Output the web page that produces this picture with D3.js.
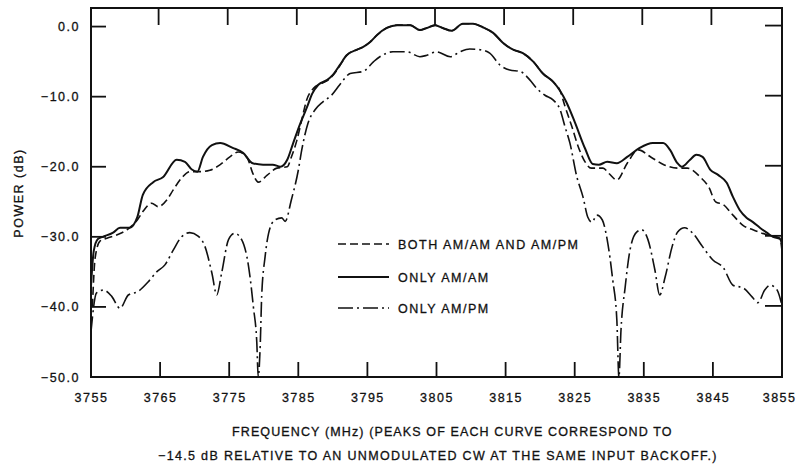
<!DOCTYPE html>
<html>
<head>
<meta charset="utf-8">
<script src="https://cdn.jsdelivr.net/npm/d3@7"></script>
<style>
  html, body { margin: 0; padding: 0; background: #fff; }
  svg text {
    font-family: "Liberation Sans", Arial, Helvetica, sans-serif;
    font-size: 12.5px;
    letter-spacing: 1.5px;
    fill: #111;
    stroke: #111;
    stroke-width: 0.3px;
  }
</style>
</head>
<body>
<svg id="chart" width="797" height="464"></svg>
<script>
// Axis ticks
const freqTicks = [3755, 3765, 3775, 3785, 3795, 3805, 3815, 3825, 3835, 3845, 3855];
const powerTicks = [0, -10, -20, -30, -40, -50];

// Spectrum with both AM/AM and AM/PM conversion (MHz, dB)
const bothCurve = [
  [3755.2,-40],[3755.6,-33],[3756.3,-30.6],[3757.3,-30.2],[3758.8,-29.7],[3760.2,-29.0],
  [3761.7,-27.6],[3762.5,-26.4],[3763.8,-25.2],[3764.7,-25.7],[3766.0,-24.7],[3766.9,-23.3],
  [3768.2,-21.5],[3769.3,-20.7],[3770.8,-20.7],[3772.2,-20.5],[3773.7,-19.7],[3775.1,-18.6],
  [3776.3,-17.9],[3777.6,-18.7],[3778.4,-20.9],[3779.2,-22.2],[3780.5,-21.2],[3781.9,-20.2],
  [3783.4,-20.0],[3784.0,-18.6],[3784.8,-16.2],[3785.5,-13.3],[3786.2,-10.5],[3787.2,-8.8],
  [3788.4,-8.1],[3789.6,-7.4],[3790.6,-6.2],[3791.3,-5.1],[3792.0,-4.1],[3793.5,-3.3],
  [3794.4,-2.9],[3795.4,-2.2],[3796.4,-1.2],[3797.8,-0.2],[3799.3,0.2],[3801.2,0.2],
  [3802.6,-0.5],[3803.6,-0.2],[3804.8,0.2],[3805.9,-0.2],[3807.2,-0.6],[3808.8,0.4],
  [3810.3,0.4],[3811.7,-0.1],[3813.2,-0.9],[3814.6,-2.3],[3816.1,-3.3],[3817.5,-3.8],
  [3819.0,-5.0],[3820.4,-6.7],[3821.9,-7.9],[3822.9,-9.2],[3823.6,-11.4],[3824.6,-14.3],
  [3825.5,-17.1],[3826.5,-19.3],[3827.4,-20.2],[3829.1,-20.2],[3830.0,-21.0],[3831.1,-21.9],
  [3832.6,-19.5],[3834.2,-17.6],[3836.0,-18.6],[3837.9,-19.7],[3839.9,-20.2],[3841.3,-20.2],
  [3843.2,-21.5],[3844.4,-22.9],[3845.4,-25.0],[3846.5,-25.4],[3847.9,-26.9],[3849.4,-28.4],
  [3850.8,-29.0],[3852.8,-29.7],[3854.7,-30.2],[3855,-32]
];

// Spectrum with AM/AM conversion only
const amamCurve = [
  [3755.0,-37],[3755.4,-32],[3756.0,-30.3],[3756.7,-30.0],[3758.2,-29.4],[3759.2,-28.7],
  [3760.6,-28.7],[3761.7,-27.2],[3762.5,-24.0],[3764.0,-22.2],[3765.4,-21.5],[3767.4,-19.0],
  [3768.6,-19.3],[3769.6,-20.4],[3770.4,-20.7],[3771.2,-18.6],[3772.5,-16.9],[3773.7,-16.6],
  [3775.5,-17.3],[3777.0,-18.0],[3778.4,-19.5],[3779.9,-19.7],[3781.3,-19.7],[3782.4,-20.0],
  [3783.4,-19.0],[3784.2,-16.8],[3785.1,-14.3],[3786.3,-11.4],[3787.0,-9.6],[3787.9,-8.3],
  [3789.2,-7.6],[3790.0,-6.9],[3791.0,-5.5],[3792.0,-4.1],[3793.5,-3.3],[3794.4,-2.9],
  [3795.4,-2.2],[3796.4,-1.2],[3797.8,-0.2],[3799.3,0.2],[3801.2,0.2],[3802.6,-0.5],
  [3803.6,-0.2],[3804.8,0.2],[3805.9,-0.2],[3807.2,-0.6],[3808.8,0.4],[3810.3,0.4],
  [3811.7,-0.1],[3813.2,-0.9],[3814.6,-2.3],[3816.1,-3.3],[3817.5,-3.8],[3819.0,-5.0],
  [3820.4,-6.7],[3821.9,-7.9],[3822.9,-9.2],[3823.8,-10.8],[3825.0,-13.6],[3826.5,-17.4],
  [3827.6,-19.6],[3828.5,-19.7],[3829.7,-19.3],[3831.1,-19.5],[3832.6,-18.6],[3834.4,-17.3],
  [3836.3,-16.6],[3837.8,-16.6],[3838.8,-17.6],[3839.8,-19.4],[3840.5,-20.0],[3841.7,-19.0],
  [3842.6,-18.3],[3843.5,-18.6],[3844.6,-20.4],[3845.8,-21.2],[3847.0,-22.3],[3847.9,-24.3],
  [3848.9,-26.2],[3849.9,-27.3],[3850.8,-27.9],[3851.8,-28.7],[3852.8,-29.4],[3853.7,-30.0],
  [3854.7,-30.3],[3855,-31]
];

// Spectrum with AM/PM conversion only
const ampmCurve = [
  [3755.0,-43.5],[3755.8,-38.0],[3756.8,-37.6],[3758.0,-38.5],[3759.2,-40.2],[3760.4,-38.3],
  [3761.8,-37.8],[3763.3,-36.4],[3764.5,-35.0],[3765.7,-34.0],[3766.9,-31.9],[3768.1,-30.0],
  [3769.3,-29.4],[3770.5,-29.9],[3771.5,-31.4],[3772.5,-35.2],[3773.2,-38.3],[3773.9,-35.2],
  [3774.9,-30.4],[3775.8,-29.5],[3776.8,-30.4],[3777.8,-34.2],[3778.5,-40.0],[3779.0,-45.2],
  [3779.2,-50.0],[3779.5,-45.2],[3779.7,-38.5],[3780.2,-32.8],[3780.7,-29.5],[3781.6,-27.6],
  [3782.6,-27.3],[3783.1,-27.8],[3784.0,-24.7],[3785.0,-20.5],[3785.5,-17.6],[3786.4,-13.8],
  [3787.4,-11.9],[3788.6,-10.7],[3789.8,-9.8],[3791.0,-8.3],[3792.5,-6.7],[3794.4,-6.4],
  [3795.9,-5.0],[3796.8,-4.3],[3798.7,-3.6],[3800.7,-3.6],[3802.6,-4.3],[3803.6,-4.1],
  [3805.0,-3.6],[3807.0,-4.3],[3808.4,-3.6],[3809.8,-3.2],[3811.3,-3.3],[3812.7,-3.8],
  [3814.2,-5.5],[3815.6,-6.2],[3817.1,-6.4],[3818.5,-7.6],[3819.5,-8.8],[3820.7,-9.8],
  [3821.9,-10.5],[3822.9,-11.9],[3823.6,-14.3],[3824.3,-16.6],[3825.3,-21.4],[3826.2,-24.3],
  [3826.9,-27.2],[3827.5,-27.9],[3828.2,-26.9],[3829.0,-27.6],[3829.7,-30.4],[3830.5,-36.1],
  [3831.1,-41.9],[3831.4,-50.0],[3831.7,-43.3],[3832.3,-37.2],[3833.0,-31.9],[3834.0,-29.3],
  [3834.7,-29.0],[3835.6,-30.4],[3836.6,-34.7],[3837.3,-38.3],[3838.1,-35.7],[3839.1,-31.4],
  [3839.9,-29.3],[3840.9,-28.7],[3842.1,-29.5],[3843.5,-31.4],[3845.0,-33.3],[3846.5,-34.4],
  [3847.9,-36.9],[3849.4,-37.3],[3850.7,-38.6],[3851.5,-39.4],[3852.5,-37.6],[3853.3,-36.9],
  [3854.3,-37.6],[3854.9,-39.4]
];

const legendLabels = ["BOTH AM/AM AND AM/PM", "ONLY AM/AM", "ONLY AM/PM"];
const xTitleLines = [
  "FREQUENCY (MHz)  (PEAKS OF EACH CURVE CORRESPOND TO",
  "\u221214.5 dB RELATIVE TO AN UNMODULATED CW AT THE SAME INPUT BACKOFF.)"
];
const yTitle = "POWER (dB)";

// Layout
const plot = { left: 91, right: 782, top: 8, bottom: 377 };
const ink = "#111";

const svg = d3.select("#chart");

const x = d3.scaleLinear().domain([3755, 3855]).range([plot.left, plot.right]);
const y = d3.scaleLinear().domain([-50, 2.65]).range([plot.bottom, plot.top]);

// Clip for curves
svg.append("defs").append("clipPath").attr("id", "plotClip")
  .append("rect")
  .attr("x", plot.left).attr("y", plot.top)
  .attr("width", plot.right - plot.left).attr("height", plot.bottom - plot.top);

// Inner ticks (all four sides point into the plot)
const innerX = freqTicks.slice(1, -1);
const innerY = powerTicks.slice(0, -1);

const fmtFreq = d3.format("d");
const fmtPow = d3.format(".1f");

const bottomAxis = d3.axisBottom(x).tickValues(freqTicks).tickSize(0).tickPadding(16).tickFormat(fmtFreq);
const gx = svg.append("g").attr("transform", `translate(0,${plot.bottom})`).call(bottomAxis);
gx.select(".domain").remove();
gx.selectAll("text").attr("font-family", null).attr("font-size", null).attr("fill", ink);
// keep the last frequency label inside the page edge
gx.selectAll(".tick").filter(d => d === freqTicks[freqTicks.length - 1])
  .select("text").attr("text-anchor", "end").attr("dx", 14);

const leftAxis = d3.axisLeft(y).tickValues(powerTicks).tickSize(0).tickPadding(11).tickFormat(fmtPow);
const gy = svg.append("g").attr("transform", `translate(${plot.left},0)`).call(leftAxis);
gy.select(".domain").remove();
gy.selectAll("text").attr("font-family", null).attr("font-size", null).attr("fill", ink);

const tickG = svg.append("g").attr("stroke", ink).attr("stroke-width", 1.8);
tickG.selectAll(".tb").data(innerX).join("line")
  .attr("x1", d => x(d)).attr("x2", d => x(d))
  .attr("y1", plot.bottom).attr("y2", plot.bottom - 15);
tickG.selectAll(".tt").data(innerX).join("line")
  .attr("x1", d => x(d) - 1.5).attr("x2", d => x(d) - 1.5)
  .attr("y1", plot.top).attr("y2", plot.top + 17);
tickG.selectAll(".tl").data(innerY).join("line")
  .attr("x1", plot.left).attr("x2", plot.left + 15)
  .attr("y1", d => y(d)).attr("y2", d => y(d));
tickG.selectAll(".tr").data(innerY).join("line")
  .attr("x1", plot.right).attr("x2", plot.right - 17)
  .attr("y1", d => y(d) - 1).attr("y2", d => y(d) - 1);

// Frame
svg.append("rect")
  .attr("x", plot.left).attr("y", plot.top)
  .attr("width", plot.right - plot.left).attr("height", plot.bottom - plot.top)
  .attr("fill", "none").attr("stroke", ink).attr("stroke-width", 2);

// Curves
const line = d3.line()
  .x(d => x(d[0])).y(d => y(d[1]))
  .curve(d3.curveMonotoneX);

const series = [
  { data: ampmCurve, width: 1.6, dash: "15,4,2,4" },
  { data: bothCurve, width: 1.6, dash: "8,4" },
  { data: amamCurve, width: 2.0, dash: null }
];

const curves = svg.append("g").attr("clip-path", "url(#plotClip)");
curves.selectAll("path").data(series).join("path")
  .attr("d", d => line(d.data))
  .attr("fill", "none")
  .attr("stroke", ink)
  .attr("stroke-width", d => d.width)
  .attr("stroke-dasharray", d => d.dash)
  .attr("stroke-linejoin", "round");

// Legend
const legendStyles = [
  { width: 1.6, dash: "8,4" },
  { width: 2.0, dash: null },
  { width: 1.6, dash: "15,4,2,4" }
];
const legendRows = [244, 277, 308];
const lg = svg.append("g");
legendLabels.forEach((label, i) => {
  lg.append("line")
    .attr("x1", 338).attr("x2", 389)
    .attr("y1", legendRows[i]).attr("y2", legendRows[i])
    .attr("stroke", ink)
    .attr("stroke-width", legendStyles[i].width)
    .attr("stroke-dasharray", legendStyles[i].dash);
  lg.append("text")
    .attr("x", 398).attr("y", legendRows[i] + 4.5)
    .text(label);
});

// Axis titles
svg.append("text")
  .attr("transform", "translate(23,193) rotate(-90)")
  .attr("text-anchor", "middle")
  .text(yTitle);

svg.append("text")
  .attr("x", 232).attr("y", 436)
  .attr("textLength", 441).attr("lengthAdjust", "spacing")
  .text(xTitleLines[0]);
svg.append("text")
  .attr("x", 158).attr("y", 460)
  .attr("textLength", 560).attr("lengthAdjust", "spacing")
  .text(xTitleLines[1]);
</script>
</body>
</html>
